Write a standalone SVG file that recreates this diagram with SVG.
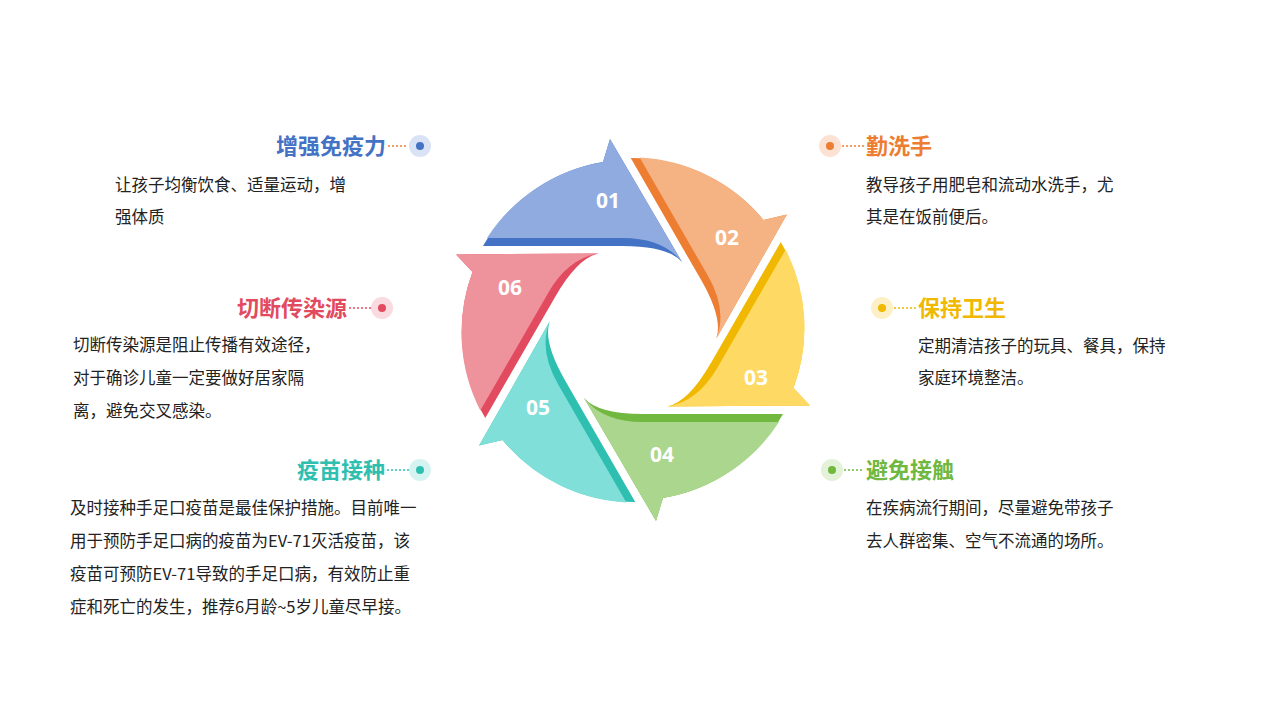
<svg xmlns="http://www.w3.org/2000/svg" width="1267" height="713" viewBox="0 0 1267 713">
<defs>
<style>
.t{font-family:"Noto Sans CJK SC","Noto Sans",sans-serif;font-weight:bold;font-size:22px}
.b{font-family:"Noto Sans CJK SC","Noto Sans",sans-serif;font-size:16.5px;fill:#222}
.n{font-family:"Open Sans","Noto Sans",sans-serif;font-weight:bold;font-size:21px;fill:#fff;text-anchor:middle;dominant-baseline:central}
.d{stroke-width:1.3;stroke-dasharray:2 2;fill:none}
</style>
<path id="dk" d="M -150,-84 A 171 171 0 0 1 -30,-168 L -23,-191 L 49,-68 Q 35,-84 -10,-84 Z"/>
<path id="lt" d="M -146,-92 A 171 171 0 0 1 -30,-168 L -23,-191 L 49,-68 Q 30,-92 -10,-92 Z"/>
</defs>
<rect width="1267" height="713" fill="#fff"/>
<g id="cycle" transform="translate(633,330)">
<g id="seg01"><use href="#dk" fill="#4472C4"/><use href="#lt" fill="#8FABE0"/></g>
<g id="seg02" transform="rotate(60)"><use href="#dk" fill="#ED7D31"/><use href="#lt" fill="#F5B383"/></g>
<g id="seg03" transform="rotate(120)"><use href="#dk" fill="#F0B800"/><use href="#lt" fill="#FED963"/></g>
<g id="seg04" transform="rotate(180)"><use href="#dk" fill="#70B83F"/><use href="#lt" fill="#ABD68D"/></g>
<g id="seg05" transform="rotate(240)"><use href="#dk" fill="#2FBFB1"/><use href="#lt" fill="#80E0D9"/></g>
<g id="seg06" transform="rotate(300)"><use href="#dk" fill="#E24B5F"/><use href="#lt" fill="#EE929C"/></g>
</g>
<g id="nums">
<text class="n" x="608" y="200">01</text>
<text class="n" x="727" y="237">02</text>
<text class="n" x="756" y="377">03</text>
<text class="n" x="662" y="454">04</text>
<text class="n" x="538" y="407">05</text>
<text class="n" x="510" y="287">06</text>
</g>
<g id="connectors">
<line class="d" x1="388" y1="146" x2="408" y2="146" stroke="#ED7D31"/>
<line class="d" x1="349" y1="308" x2="371" y2="308" stroke="#E24B5F"/>
<line class="d" x1="387" y1="470" x2="409" y2="470" stroke="#2FBFB1"/>
<line class="d" x1="842" y1="146" x2="864" y2="146" stroke="#ED7D31"/>
<line class="d" x1="894" y1="308" x2="916" y2="308" stroke="#F0B800"/>
<line class="d" x1="844" y1="470" x2="864" y2="470" stroke="#70B83F"/>
</g>
<g id="n1">
<circle cx="420" cy="146" r="11" fill="#DAE3F5"/><circle cx="420" cy="146" r="4" fill="#4472C4"/>
<text class="t" x="386" y="154" text-anchor="end" fill="#4472C4">增强免疫力</text>
<text class="b" x="115" y="191">让孩子均衡饮食、适量运动，增</text>
<text class="b" x="115" y="223">强体质</text>
</g>
<g id="n2">
<circle cx="830" cy="146" r="11" fill="#FBE2D2"/><circle cx="830" cy="146" r="4" fill="#ED7D31"/>
<text class="t" x="866" y="154" fill="#ED7D31">勤洗手</text>
<text class="b" x="866" y="191">教导孩子用肥皂和流动水洗手，尤</text>
<text class="b" x="866" y="223">其是在饭前便后。</text>
</g>
<g id="n3">
<circle cx="882" cy="308" r="11" fill="#FDF0C6"/><circle cx="882" cy="308" r="4" fill="#F0B800"/>
<text class="t" x="918" y="316" fill="#F0B800">保持卫生</text>
<text class="b" x="918" y="352">定期清洁孩子的玩具、餐具，保持</text>
<text class="b" x="918" y="384">家庭环境整洁。</text>
</g>
<g id="n4">
<circle cx="832" cy="470" r="11" fill="#E2F1D8"/><circle cx="832" cy="470" r="4" fill="#70B83F"/>
<text class="t" x="866" y="478" fill="#70B83F">避免接触</text>
<text class="b" x="866" y="514">在疾病流行期间，尽量避免带孩子</text>
<text class="b" x="866" y="547">去人群密集、空气不流通的场所。</text>
</g>
<g id="n5">
<circle cx="420" cy="470" r="11" fill="#D5F3F0"/><circle cx="420" cy="470" r="4" fill="#2FBFB1"/>
<text class="t" x="385" y="478" text-anchor="end" fill="#2FBFB1">疫苗接种</text>
<text class="b" x="70" y="514">及时接种手足口疫苗是最佳保护措施。目前唯一</text>
<text class="b" x="70" y="547">用于预防手足口病的疫苗为EV-71灭活疫苗，该</text>
<text class="b" x="70" y="580">疫苗可预防EV-71导致的手足口病，有效防止重</text>
<text class="b" x="70" y="613">症和死亡的发生，推荐6月龄~5岁儿童尽早接。</text>
</g>
<g id="n6">
<circle cx="382" cy="308" r="11" fill="#F9DADE"/><circle cx="382" cy="308" r="4" fill="#E24B5F"/>
<text class="t" x="347" y="316" text-anchor="end" fill="#E24B5F">切断传染源</text>
<text class="b" x="73" y="351">切断传染源是阻止传播有效途径，</text>
<text class="b" x="73" y="384">对于确诊儿童一定要做好居家隔</text>
<text class="b" x="73" y="417">离，避免交叉感染。</text>
</g>
</svg>
